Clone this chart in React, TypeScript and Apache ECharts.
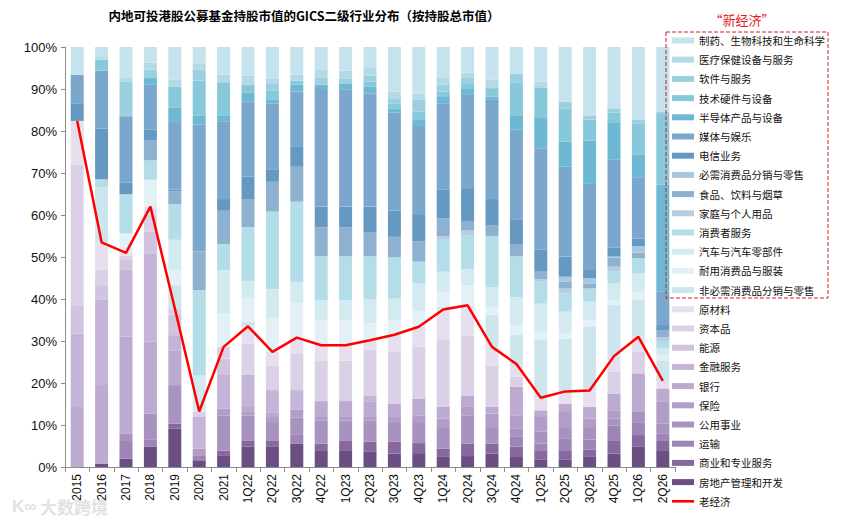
import React, { useEffect, useRef } from 'react';
import * as echarts from 'echarts';

const categories = ['2015','2016','2017','2018','2019','2020','2021','1Q22','2Q22','3Q22','4Q22','1Q23','2Q23','3Q23','4Q23','1Q24','2Q24','3Q24','4Q24','1Q25','2Q25','3Q25','4Q25','1Q26','2Q26'];

// old economy (bottom of stack first)
const realEstate = [0, 0.8, 2.0, 4.8, 9.1, 1.6, 2.8, 4.9, 4.8, 5.6, 4.0, 4.0, 3.6, 3.2, 3.3, 2.4, 2.6, 3.2, 2.4, 1.7, 1.7, 2.4, 3.2, 4.8, 4.0];
const commercial = [0, 0, 0, 0, 1.2, 0, 1.1, 1.3, 1.4, 0, 1.6, 2.2, 2.4, 2.8, 2.4, 2.0, 3.0, 2.4, 2.4, 2.3, 2.3, 1.7, 3.0, 2.8, 2.2];
const transport = [0, 0, 4.4, 1.8, 0, 1.2, 0, 0, 0, 2.2, 0, 0, 0, 0, 0, 0, 0, 0, 2.4, 1.6, 2.7, 2.4, 3.7, 2.9, 1.7];
const utilities = [0, 0, 1.6, 6.1, 9.2, 0, 8.4, 6.0, 4.5, 4.0, 5.4, 4.9, 5.0, 4.7, 5.0, 5.1, 6.7, 3.9, 1.9, 2.8, 2.8, 3.0, 1.6, 2.6, 2.4];
const insurance = [0, 0, 0, 0, 0, 1.6, 1.6, 0.9, 1.2, 1.9, 0.9, 1.0, 0.9, 1.2, 1.6, 2.0, 2.0, 3.2, 3.2, 3.5, 3.6, 2.0, 2.0, 0, 5.2];
const banks = [14.3, 18.7, 23.0, 17.1, 8.3, 0, 0, 1.6, 1.0, 0, 3.8, 3.6, 3.6, 3.2, 4.0, 2.8, 2.6, 1.6, 6.8, 1.6, 2.0, 2.8, 4.0, 9.2, 3.2];
const finServices = [17.5, 20.3, 16.0, 21.1, 3.6, 7.5, 8.0, 7.2, 5.4, 4.6, 0, 0, 1.4, 0, 0, 0, 0, 0, 0, 0, 0, 0, 0, 0, 0];
const energy = [6.7, 3.5, 2.3, 5.1, 4.8, 0, 3.9, 0, 0, 0, 0, 0, 0, 0, 0, 0, 0, 0, 0, 0, 0, 0, 0, 0, 0];
const capitalGoods = [33.4, 3.6, 1.0, 4.0, 1.6, 1.3, 2.8, 7.5, 5.9, 8.6, 9.7, 9.6, 11.1, 12.3, 12.3, 16.1, 14.3, 9.9, 2.4, 0, 0, 0, 5.2, 5.1, 0];
const materials = [10.5, 6.6, 0.7, 2.0, 0, 0, 0, 4.1, 3.2, 3.9, 3.6, 3.7, 2.2, 4.1, 4.8, 7.1, 7.3, 4.4, 3.0, 3.0, 2.9, 3.9, 3.7, 3.6, 1.8];

// new economy
const discRetail = [0, 13.1, 0, 0, 5.5, 0, 0, 1.1, 0, 0, 0, 0, 0, 0, 0, 0.7, 0, 7.6, 6.9, 13.9, 12.6, 15.3, 12.2, 8.9, 4.9];
const durables = [0, 0, 4.6, 6.4, 3.6, 0, 8.0, 5.6, 8.0, 8.3, 6.0, 6.0, 4.0, 3.5, 3.8, 3.5, 4.8, 2.0, 2.4, 1.8, 1.2, 1.5, 1.1, 1.8, 1.2];
const autos = [0, 0, 0, 0, 7.2, 8.6, 10.3, 4.1, 6.9, 4.8, 4.7, 4.7, 5.7, 5.1, 6.5, 4.8, 3.8, 4.6, 6.6, 6.7, 5.2, 4.4, 4.0, 4.4, 1.6];
const consumerSvc = [0, 1.9, 9.0, 4.6, 8.5, 20.3, 6.2, 12.8, 18.5, 19.3, 10.5, 10.5, 10.3, 9.8, 5.2, 7.6, 8.1, 12.2, 9.8, 5.2, 4.3, 3.1, 2.8, 3.6, 1.6];
const household = [0, 0, 0.4, 0, 0, 0, 0, 0, 0, 0, 0, 0, 0, 0, 0, 0.9, 1.1, 0, 0, 0.6, 1.2, 0, 1.2, 0, 1.1];
const food = [0, 0, 0, 4.7, 3.0, 9.2, 7.9, 6.7, 7.1, 8.3, 6.9, 6.9, 5.6, 4.9, 4.8, 4.2, 2.1, 2.6, 2.7, 1.8, 1.6, 1.2, 2.2, 1.3, 1.7];
const staplesRetail = [0, 0, 0, 0, 0, 0, 0, 0, 0, 0, 0, 0, 0, 0, 0, 0, 0, 0, 0, 0, 1.2, 1.2, 0.2, 1.6, 0];
const telecom = [4.2, 12.1, 2.7, 2.6, 0.4, 0, 2.8, 5.3, 3.0, 4.7, 4.9, 4.9, 6.2, 6.2, 6.3, 6.9, 8.0, 6.2, 6.1, 5.3, 4.8, 2.0, 2.2, 1.8, 1.2];
const media = [6.8, 13.8, 15.8, 10.7, 15.9, 30.2, 18.5, 17.9, 15.6, 13.2, 28.0, 27.8, 26.9, 23.4, 21.2, 20.5, 22.2, 23.6, 21.3, 24.1, 21.4, 20.5, 21.0, 14.6, 7.9];
const semis = [0, 0, 0, 1.6, 3.6, 2.1, 1.3, 2.2, 0.9, 1.6, 1.0, 1.4, 1.7, 1.0, 1.6, 1.5, 1.4, 0.8, 3.3, 7.2, 6.0, 10.3, 8.6, 5.3, 25.5];
const techHw = [0, 2.6, 0, 0, 5.1, 8.4, 8.0, 1.8, 2.3, 1.0, 0, 0, 1.2, 1.2, 1.8, 1.3, 1.4, 2.0, 8.0, 7.3, 7.9, 5.0, 2.5, 7.4, 17.0];
const software = [0, 0, 8.3, 2.0, 0, 2.6, 0, 0, 1.7, 0, 1.8, 1.2, 1.4, 1.2, 2.8, 1.6, 1.4, 0, 2.0, 0, 1.6, 0.9, 1.0, 1.0, 0.4];
const healthcare = [0, 0.6, 0.8, 1.7, 1.6, 1.4, 1.8, 2.2, 1.0, 1.4, 1.9, 2.0, 1.8, 1.6, 1.5, 1.8, 1.1, 2.0, 0, 1.4, 0, 0, 0, 0, 0];
const pharma = [6.6, 2.4, 7.4, 3.7, 7.8, 4.0, 6.6, 6.8, 7.6, 6.6, 5.3, 5.6, 5.0, 10.6, 11.1, 7.2, 6.1, 7.8, 6.4, 8.2, 13.0, 16.4, 14.6, 17.3, 15.4];

// old economy total (red line)
const oldEconomy = [82.4, 53.5, 51.0, 62.0, 37.8, 13.2, 28.6, 33.5, 27.4, 30.8, 29.0, 29.0, 30.2, 31.5, 33.4, 37.5, 38.5, 28.6, 24.5, 16.5, 18.0, 18.2, 26.4, 31.0, 20.5];

const stackDefs = [
  { name: '房地产管理和开发', data: realEstate, color: '#6b4f82' },
  { name: '商业和专业服务', data: commercial, color: '#87689f' },
  { name: '运输', data: transport, color: '#9d85b7' },
  { name: '公用事业', data: utilities, color: '#a892c0' },
  { name: '保险', data: insurance, color: '#b19dc7' },
  { name: '银行', data: banks, color: '#bcaad0' },
  { name: '金融服务', data: finServices, color: '#c4b4d7' },
  { name: '能源', data: energy, color: '#d0c4df' },
  { name: '资本品', data: capitalGoods, color: '#dbd1e6' },
  { name: '原材料', data: materials, color: '#e6e0ee' },
  { name: '非必需消费品分销与零售', data: discRetail, color: '#cde6ee' },
  { name: '耐用消费品与服装', data: durables, color: '#e3f1f6' },
  { name: '汽车与汽车零部件', data: autos, color: '#d3eaf1' },
  { name: '消费者服务', data: consumerSvc, color: '#b3dde7' },
  { name: '家庭与个人用品', data: household, color: '#b8cde2' },
  { name: '食品、饮料与烟草', data: food, color: '#8fb1d0' },
  { name: '必需消费品分销与零售', data: staplesRetail, color: '#a9c7de' },
  { name: '电信业务', data: telecom, color: '#6699c2' },
  { name: '媒体与娱乐', data: media, color: '#7aa7cb' },
  { name: '半导体产品与设备', data: semis, color: '#6db8d3' },
  { name: '技术硬件与设备', data: techHw, color: '#88c8db' },
  { name: '软件与服务', data: software, color: '#9dd0df' },
  { name: '医疗保健设备与服务', data: healthcare, color: '#b4dbe5' },
  { name: '制药、生物科技和生命科学', data: pharma, color: '#c5e3ec' },
];

const FONT = '"Liberation Sans", "Noto Sans CJK SC", sans-serif';
const CJK = '"Noto Sans CJK SC", "Liberation Sans", sans-serif';

export default function App() {
  const ref = useRef<HTMLDivElement>(null);
  useEffect(() => {
    if (!ref.current) return;
    const chart = echarts.init(ref.current, null, { renderer: 'svg' });
    const barSeries = stackDefs.map((d) => ({
      name: d.name,
      type: 'bar',
      stack: 'all',
      data: d.data,
      barWidth: 13,
      itemStyle: { color: d.color },
      emphasis: { disabled: true },
    }));
    const legendData: any[] = [...stackDefs].reverse().map((d) => ({ name: d.name, icon: 'rect' }));
    legendData.push({ name: '老经济', icon: 'path://M0,0H22V2.6H0Z' });
    chart.setOption({
      animation: false,
      textStyle: { fontFamily: FONT },
      title: {
        text: '内地可投港股公募基金持股市值的GICS二级行业分布（按持股总市值）',
        left: 304,
        textAlign: 'center',
        top: 9,
        padding: 0,
        textStyle: { fontSize: 12.5, fontWeight: 'bold', color: '#000', fontFamily: CJK },
      },
      grid: { left: 65, right: 177, top: 47, bottom: 55, containLabel: false },
      legend: {
        orient: 'vertical',
        left: 672,
        top: 34.5,
        padding: 0,
        itemWidth: 22,
        itemHeight: 6,
        itemGap: 7.2,
        symbolKeepAspect: true,
        selectedMode: false,
        data: legendData,
        textStyle: { fontSize: 10.5, color: '#111', fontFamily: CJK, lineHeight: 12 },
      },
      xAxis: {
        type: 'category',
        data: categories,
        axisLine: { lineStyle: { color: '#8c8c8c' } },
        axisTick: { show: true, length: 5, lineStyle: { color: '#8c8c8c' } },
        axisLabel: { rotate: 90, fontSize: 12, color: '#111', margin: 7, interval: 0 },
      },
      yAxis: {
        type: 'value',
        min: 0,
        max: 100,
        interval: 10,
        axisLine: { show: true, lineStyle: { color: '#8c8c8c' } },
        axisTick: { show: true, length: 4, lineStyle: { color: '#8c8c8c' } },
        splitLine: { show: false },
        axisLabel: { formatter: '{value}%', fontSize: 13, color: '#111', margin: 8 },
      },
      graphic: [
        {
          type: 'rect',
          shape: { x: 666, y: 32, width: 162, height: 266 },
          style: { fill: 'none', stroke: '#d42020', lineWidth: 1, lineDash: [4, 2] },
          z: 100,
        },
        {
          type: 'text',
          x: 742,
          y: 19,
          style: {
            text: '“新经济”',
            fill: '#e41a1a',
            font: `13px ${CJK}`,
            textAlign: 'center',
            textVerticalAlign: 'middle',
          },
        },
        {
          type: 'text',
          x: 40,
          y: 506,
          style: {
            text: '大数跨境',
            fill: '#e2e2e2',
            font: `bold 17px ${CJK}`,
            textVerticalAlign: 'middle',
          },
          z: 0,
        },
        {
          type: 'text',
          x: 12,
          y: 506,
          style: {
            text: 'K∞',
            fill: '#e2e2e2',
            font: `bold 17px ${FONT}`,
            textVerticalAlign: 'middle',
          },
          z: 0,
        },
      ],
      series: [
        ...barSeries,
        {
          name: '老经济',
          type: 'line',
          data: oldEconomy,
          symbol: 'none',
          z: 10,
          lineStyle: { color: '#ff0000', width: 2.5 },
          itemStyle: { color: '#ff0000' },
          emphasis: { disabled: true },
        },
      ],
    });
    return () => chart.dispose();
  }, []);
  return <div ref={ref} style={{ position: 'fixed', left: 0, top: 0, width: 852, height: 522, background: '#fff' }} />;
}
